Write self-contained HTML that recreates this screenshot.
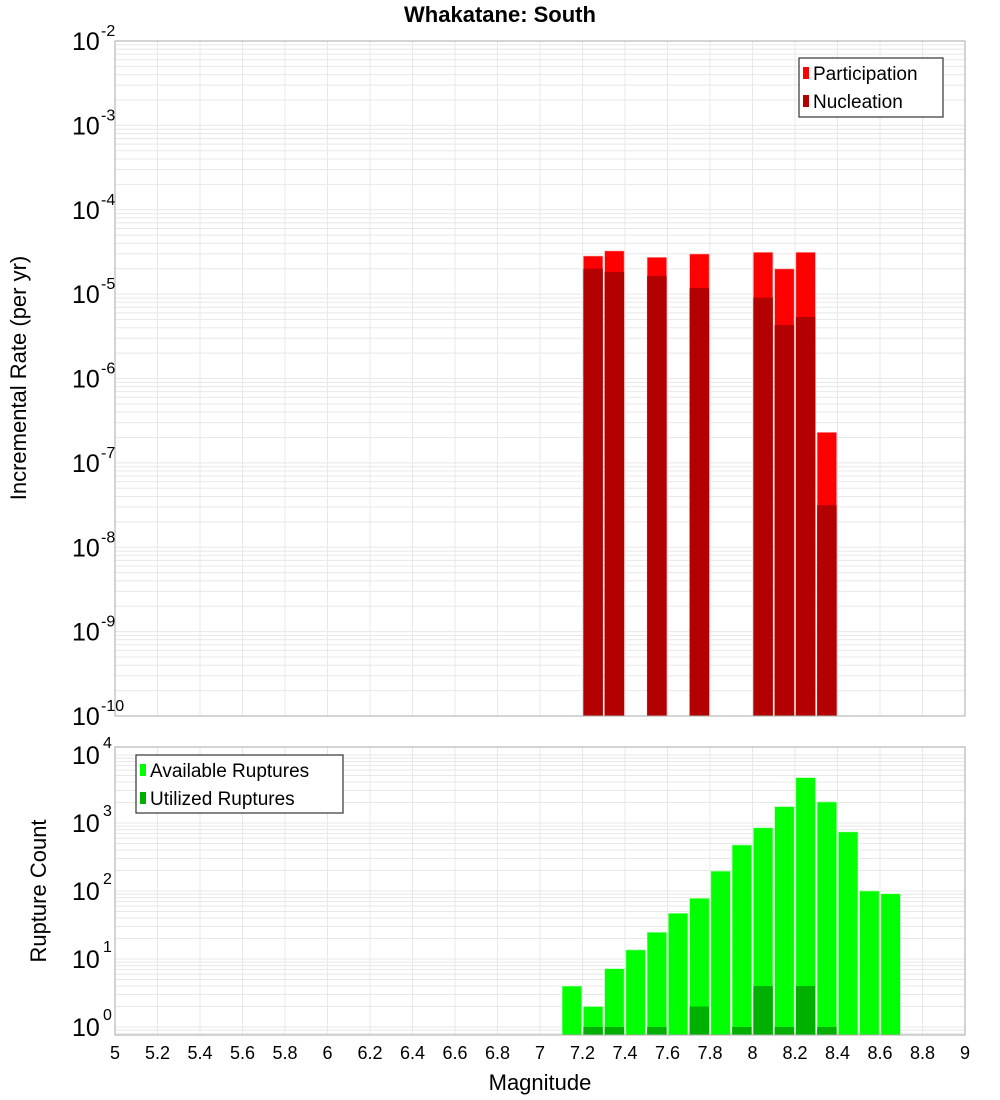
<!DOCTYPE html>
<html><head><meta charset="utf-8"><style>
body{margin:0;background:#fff;}
svg{display:block;font-family:"Liberation Sans","DejaVu Sans",sans-serif;}
</style></head><body>
<svg id="c" width="1000" height="1100" xmlns="http://www.w3.org/2000/svg">
<text x="500" y="22" text-anchor="middle" font-size="22" font-weight="bold">Whakatane: South</text>
<g id="g1"></g>
<g id="g2"></g>
<text transform="translate(26,378) rotate(-90)" text-anchor="middle" font-size="22">Incremental Rate (per yr)</text>
<text transform="translate(46,891) rotate(-90)" text-anchor="middle" font-size="22">Rupture Count</text>
<text x="540" y="1090" text-anchor="middle" font-size="22">Magnitude</text>
<g>
<rect x="799" y="58" width="144" height="59" fill="#fff" stroke="#333" stroke-width="1.2"/>
<rect x="803" y="67" width="6" height="12" fill="#ff0000"/>
<text x="813" y="80" font-size="19">Participation</text>
<rect x="803" y="95" width="6" height="12" fill="#b30000"/>
<text x="813" y="108" font-size="19">Nucleation</text>
</g>
<g>
<rect x="136" y="755" width="207" height="58" fill="#fff" stroke="#333" stroke-width="1.2"/>
<rect x="140" y="764" width="6" height="12" fill="#00ff00"/>
<text x="150" y="777" font-size="19">Available Ruptures</text>
<rect x="140" y="792" width="6" height="12" fill="#00b000"/>
<text x="150" y="805" font-size="19">Utilized Ruptures</text>
</g>
</svg>
<script>
const rateMags=[7.25,7.35,7.55,7.75,8.05,8.15,8.25,8.35];
const participation=[2.83e-5,3.25e-5,2.73e-5,2.99e-5,3.13e-5,1.99e-5,3.13e-5,2.3e-7];
const nucleation=[2.0e-5,1.83e-5,1.65e-5,1.18e-5,9.1e-6,4.3e-6,5.36e-6,3.16e-8];
const countMags=[7.15,7.25,7.35,7.45,7.55,7.65,7.75,7.85,7.95,8.05,8.15,8.25,8.35,8.45,8.55,8.65];
const available=[4,2,7.2,13.6,24.7,47,78,196,475,850,1740,4640,2040,740,100,91];
const utilized=[0,1,1,0,1,0,2,0,1,4,1,4,1,0,0,0];
const xTicks=[5,5.2,5.4,5.6,5.8,6,6.2,6.4,6.6,6.8,7,7.2,7.4,7.6,7.8,8,8.2,8.4,8.6,8.8,9];
const rateExps=[-2,-3,-4,-5,-6,-7,-8,-9,-10];
const countExps=[4,3,2,1,0];
const NS="http://www.w3.org/2000/svg";
const L=115,R=965;
const x=m=>L+(m-5)*(R-L)/4;
const bw=19.5;
const y1=v=>716-(Math.log10(v)+10)*84.375;
const y2=v=>1027-Math.log10(v)*68;
function mk(p,t,a){const e=document.createElementNS(NS,t);for(const k in a)e.setAttribute(k,a[k]);p.appendChild(e);return e;}
function panel(g,top,bot,yf,lo,hi){
  for(const t of xTicks){const l=mk(g,'line',{x1:x(t),x2:x(t),y1:top,y2:bot,stroke:'#e8e8e8'});
  
  }
  for(let e=lo;e<=hi;e++)for(let k=1;k<10;k++){const yy=yf(k*Math.pow(10,e));if(yy<top||yy>bot)continue;
    const l=mk(g,'line',{x1:L,x2:R,y1:yy,y2:yy,stroke:'#e8e8e8'});
    
    }
}
const g1=document.getElementById('g1'),g2=document.getElementById('g2');
panel(g1,41,716,y1,-10,-3);
panel(g2,747,1035,y2,-1,4);
rateMags.forEach((m,i)=>{
  const r=mk(g1,'rect',{x:x(m)-bw/2,y:y1(participation[i]),width:bw,height:716-y1(participation[i]),fill:'#ff0000',stroke:'#ffb0b0','stroke-width':0.6});
  
  
  const n=mk(g1,'rect',{x:x(m)-bw/2,y:y1(nucleation[i]),width:bw,height:716-y1(nucleation[i]),fill:'#b30000'});
  
  
});
countMags.forEach((m,i)=>{
  const r=mk(g2,'rect',{x:x(m)-bw/2,y:y2(available[i]),width:bw,height:1035-y2(available[i]),fill:'#00ff00',stroke:'#b0ffb0','stroke-width':0.6});
  
  
  if(utilized[i]>0){const u=mk(g2,'rect',{x:x(m)-bw/2,y:y2(utilized[i]),width:bw,height:1035-y2(utilized[i]),fill:'#00b000'});
  
  }
});
mk(g1,'rect',{x:L,y:41,width:R-L,height:675,fill:'none',stroke:'#aaa'});
mk(g2,'rect',{x:L,y:747,width:R-L,height:288,fill:'none',stroke:'#aaa'});
rateExps.forEach(e=>{const yy=716-(e+10)*84.375;
  const t=mk(g1,'text',{x:72,y:yy+9,'font-size':25});t.textContent='10';
  
  
  const s=mk(g1,'text',{x:101,y:yy-5,'font-size':16});s.textContent=String(e);
  
  });
countExps.forEach(e=>{const yy=y2(Math.pow(10,e));
  const t=mk(g2,'text',{x:72,y:yy+9,'font-size':25});t.textContent='10';
  
  
  const s=mk(g2,'text',{x:103,y:yy-7,'font-size':16});s.textContent=String(e);
  
  });
xTicks.forEach(t=>{const tx=mk(g2,'text',{x:x(t),y:1059,'font-size':18,'text-anchor':'middle'});tx.textContent=String(t);
  
  });
</script>
</body></html>
